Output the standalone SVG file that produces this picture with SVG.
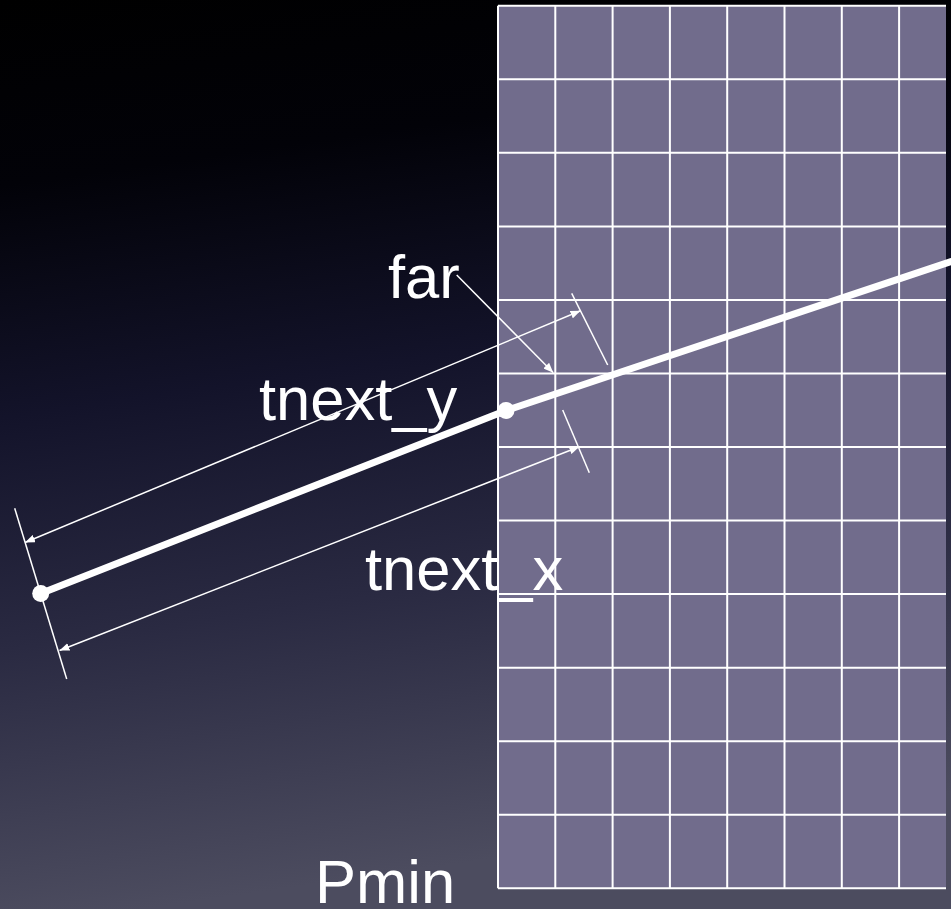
<svg xmlns="http://www.w3.org/2000/svg" width="951" height="909" viewBox="0 0 951 909">
<defs>
<linearGradient id="bg" x1="0" y1="0" x2="0.15" y2="1">
<stop offset="0" stop-color="#000000"/>
<stop offset="0.2" stop-color="#020208"/>
<stop offset="0.45" stop-color="#13132a"/>
<stop offset="0.7" stop-color="#2a2a42"/>
<stop offset="1" stop-color="#4c4c5f"/>
</linearGradient>
<clipPath id="gc"><rect x="490" y="0" width="456" height="909"/></clipPath>
<marker id="ah" viewBox="0 0 10 8" refX="10" refY="4" markerWidth="10" markerHeight="8" markerUnits="userSpaceOnUse" orient="auto-start-reverse">
<path d="M0,0 L10,4 L0,8 z" fill="#ffffff"/>
</marker>
<style>
.gl{stroke:#ffffff;stroke-width:2;fill:none}
.thin{stroke:#ffffff;stroke-width:1.5;fill:none}
.thick{stroke:#ffffff;stroke-width:7;fill:none;stroke-linecap:round}
.lbl{font-family:"Liberation Sans",Arial,sans-serif;font-size:61.5px;fill:#ffffff}
</style>
</defs>
<rect width="951" height="909" fill="url(#bg)"/>
<g id="grid" clip-path="url(#gc)">
<rect x="498" y="5.7" width="460" height="882.6" fill="#716c8c"/>
<path class="gl" d="M498,5.7V888.3M555.3,5.7V888.3M612.6,5.7V888.3M669.9,5.7V888.3M727.2,5.7V888.3M784.5,5.7V888.3M841.8,5.7V888.3M899.1,5.7V888.3"/>
<path class="gl" d="M498,5.7H958M498,79.25H958M498,152.8H958M498,226.4H958M498,299.9H958M498,373.5H958M498,447H958M498,520.6H958M498,594.1H958M498,667.7H958M498,741.2H958M498,814.8H958M498,888.3H958"/>
</g>
<g id="connectors">
<path class="thick" d="M40.7,593.5L506,410.5L951,261.5"/>
<path class="thin" d="M14.7,508.3L66.7,679"/>
<path class="thin" d="M571.7,293.3L607.7,365"/>
<path class="thin" d="M562.7,410L589.3,472.7"/>
<path class="thin" d="M25,542.5L580.5,310.8" marker-start="url(#ah)" marker-end="url(#ah)"/>
<path class="thin" d="M59.5,650.5L579.3,446.7" marker-start="url(#ah)" marker-end="url(#ah)"/>
<path class="thin" d="M456.7,275L553.3,372.7" marker-end="url(#ah)"/>
</g>
<g id="p0"><circle cx="40.7" cy="593.5" r="8.5" fill="#ffffff"/></g>
<g id="p1"><circle cx="506" cy="410.5" r="8.5" fill="#ffffff"/></g>
<g id="far"><text class="lbl" x="388" y="298">far</text></g>
<g id="tnext_y"><text class="lbl" x="259" y="420">tnext_y</text></g>
<g id="tnext_x"><text class="lbl" x="365" y="590">tnext_x</text></g>
<g id="pmin"><text class="lbl" x="315" y="903">Pmin</text></g>
</svg>
